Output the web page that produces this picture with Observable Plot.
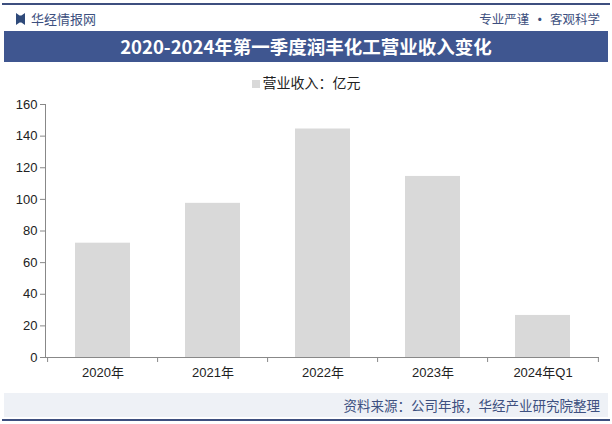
<!DOCTYPE html>
<html><head><meta charset="utf-8">
<script src="https://cdn.jsdelivr.net/npm/d3@7"></script>
<script src="https://cdn.jsdelivr.net/npm/@observablehq/plot@0.6"></script>
<style>
body{margin:0;width:612px;height:424px;background:#fff;font-family:"Liberation Sans","Noto Sans CJK SC",sans-serif;position:relative;overflow:hidden}
.topline{position:absolute;left:2px;right:2px;top:3px;height:2px;background:#3d4f7f}
.botline{position:absolute;left:2px;right:2px;top:419px;height:2px;background:#3d4f7f}
.hdr{position:absolute;top:9px;left:16px;font-size:13px;color:#3d5080;font-family:"Noto Sans CJK SC",sans-serif}
.hdr b{display:inline-block;width:9px;height:12px;background:#2f4a7a;margin-right:6px;vertical-align:-1px;clip-path:polygon(0 0,40% 20%,60% 20%,100% 0,100% 100%,60% 80%,40% 80%,0 100%)}
.hdr2{position:absolute;top:9px;right:12px;font-size:12.5px;color:#3d5080;font-family:"Noto Sans CJK SC",sans-serif}
.hdr2 span{font-size:15px;line-height:10px;vertical-align:-1px}
.title{position:absolute;top:31px;left:4px;right:4px;height:31px;background:#3f5690;color:#fff;text-align:center;font:bold 18.5px/31px "Noto Sans CJK SC",serif}
.legend{position:absolute;top:72px;left:0;right:0;text-align:center;font-size:14px;color:#222;font-family:"Noto Sans CJK SC",sans-serif}
.legend i{display:inline-block;width:8px;height:8px;background:#d9d9d9;margin-right:3px}
#chart{position:absolute;top:92px;left:0}
.foot{position:absolute;top:393px;left:4px;right:4px;height:24px;background:#eef1f6;text-align:right;font:13.5px/24px "Noto Sans CJK SC",sans-serif;color:#3d5080;padding-right:8px;box-sizing:border-box}
</style></head><body>
<div class="topline"></div>
<div class="hdr"><b></b>华经情报网</div>
<div class="hdr2">专业严谨 <span>•</span> 客观科学</div>
<div class="title">2020-2024年第一季度润丰化工营业收入变化</div>
<div class="legend"><i></i>营业收入：亿元</div>
<div id="chart"></div>
<div class="foot">资料来源：公司年报，华经产业研究院整理</div>
<div class="botline"></div>
<script>
const categories = ["2020年","2021年","2022年","2023年","2024年Q1"];
const revenue = [72.3, 97.5, 144.5, 114.5, 26.6];
const yTicks = [0,20,40,60,80,100,120,140,160];
const data = categories.map((c,i)=>({cat:c, v:revenue[i]}));
const W = 612, ML = 45, MR = 13;
const step = (W - ML - MR) / categories.length;
const chart = Plot.plot({
  width: W, height: 298,
  marginTop: 12, marginBottom: 33, marginLeft: ML, marginRight: MR,
  style: {fontFamily: '"Liberation Sans","Noto Sans CJK SC",sans-serif', fontSize: "12px", color: "#222", background: "transparent"},
  x: {domain: categories, paddingInner: 0.5, paddingOuter: 0.25, label: null},
  y: {domain: [0,160], ticks: yTicks, label: null},
  marks: [
    Plot.barY(data, {x: "cat", y: "v", fill: "#d9d9d9", style: {filter: "drop-shadow(3px 2px 2px rgba(0,0,0,0.25))"}}),
    Plot.axisY({ticks: yTicks, tickSize: 5, tickPadding: 3, fontSize: 13, stroke: "#888"}),
    Plot.ruleY([0], {stroke: "#888"}),
    Plot.axisX({text: null, tickSize: 5, dx: -step/2, stroke: "#888"}),
    Plot.axisX(categories.slice(-1), {text: null, tickSize: 5, dx: step/2, stroke: "#888"}),
    Plot.axisX({tickSize: 0, tickPadding: 10, fontSize: 13}),
    Plot.frame({anchor: "left", stroke: "#888"})
  ]
});
document.getElementById("chart").appendChild(chart);
</script>
</body></html>
